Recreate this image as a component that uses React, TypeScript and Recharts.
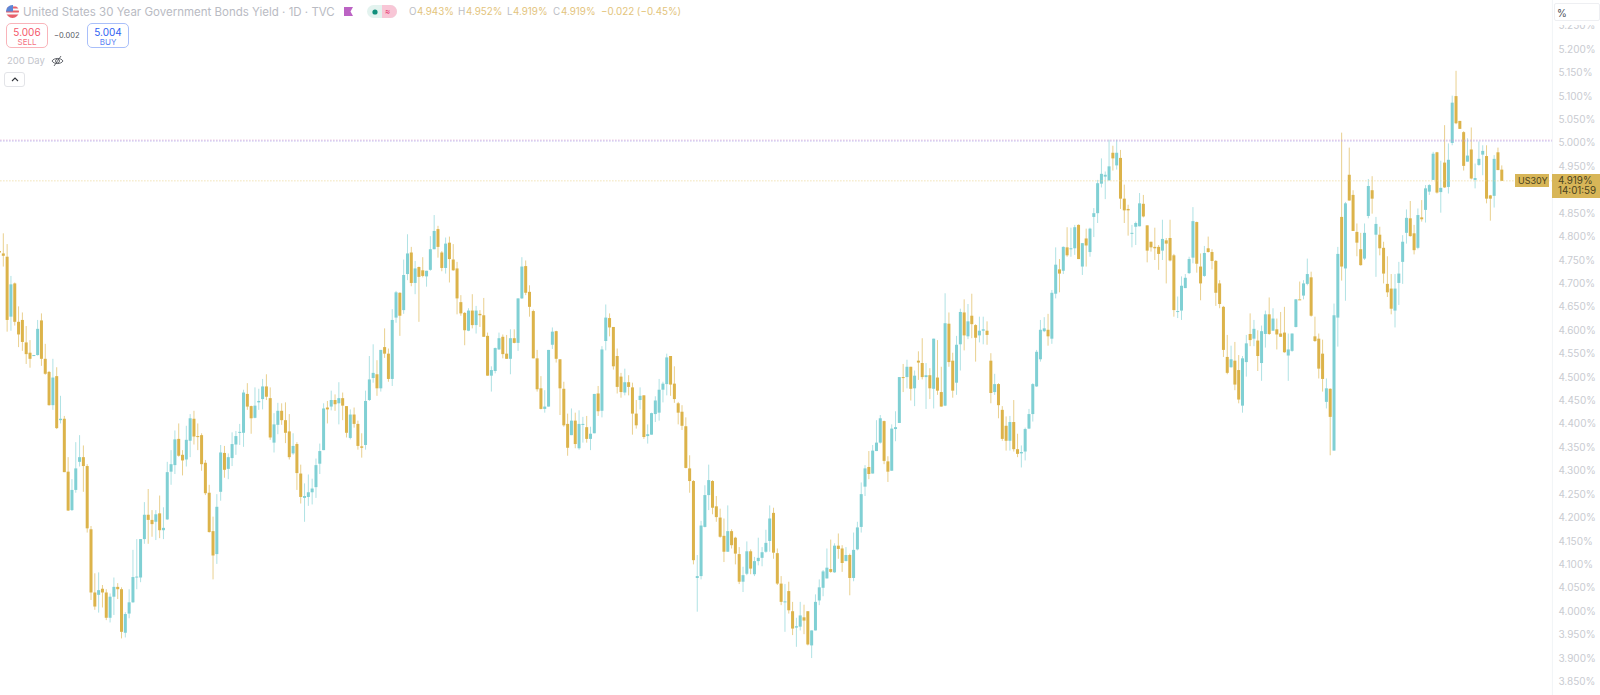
import React from "react";
import { ComposedChart, Bar, XAxis, YAxis, ReferenceLine } from "recharts";

const highs = [
  4.772,4.807,4.784,4.716,4.702,4.651,4.638,4.609,4.579,4.547,
  4.622,4.636,4.571,4.513,4.539,4.521,4.460,4.417,4.329,4.282,
  4.361,4.376,4.354,4.314,4.182,4.081,4.083,4.056,4.047,4.038,
  4.072,4.060,4.051,3.998,4.047,4.131,4.154,4.154,4.233,4.261,
  4.216,4.216,4.247,4.222,4.319,4.344,4.386,4.401,4.344,4.396,
  4.421,4.428,4.401,4.380,4.323,4.270,4.202,4.250,4.355,4.353,
  4.337,4.382,4.385,4.400,4.473,4.487,4.439,4.478,4.475,4.496,
  4.506,4.478,4.423,4.445,4.444,4.446,4.421,4.380,4.361,4.313,
  4.273,4.292,4.283,4.326,4.358,4.444,4.449,4.471,4.463,4.489,
  4.467,4.438,4.431,4.435,4.407,4.380,4.471,4.545,4.570,4.536,
  4.558,4.604,4.561,4.645,4.684,4.681,4.751,4.805,4.778,4.748,
  4.736,4.756,4.727,4.801,4.846,4.823,4.769,4.798,4.800,4.784,
  4.746,4.675,4.639,4.647,4.677,4.652,4.643,4.669,4.595,4.523,
  4.563,4.595,4.591,4.590,4.602,4.602,4.668,4.756,4.749,4.696,
  4.644,4.558,4.502,4.472,4.558,4.606,4.599,4.538,4.490,4.422,
  4.433,4.424,4.429,4.415,4.417,4.394,4.464,4.481,4.566,4.655,
  4.636,4.607,4.561,4.509,4.518,4.504,4.488,4.451,4.478,4.461,
  4.399,4.424,4.459,4.496,4.490,4.550,4.545,4.523,4.447,4.440,
  4.414,4.333,4.280,4.120,4.193,4.269,4.313,4.280,4.246,4.219,
  4.198,4.226,4.175,4.159,4.137,4.095,4.149,4.132,4.116,4.157,
  4.137,4.174,4.226,4.221,4.134,4.075,4.058,4.063,4.020,3.986,
  4.020,4.014,4.000,3.959,4.036,4.068,4.088,4.134,4.153,4.145,
  4.166,4.141,4.137,4.123,4.168,4.191,4.275,4.312,4.342,4.355,
  4.408,4.419,4.407,4.331,4.399,4.427,4.500,4.528,4.537,4.522,
  4.514,4.555,4.583,4.530,4.519,4.582,4.579,4.522,4.679,4.638,
  4.552,4.588,4.646,4.666,4.656,4.678,4.613,4.629,4.629,4.619,
  4.551,4.507,4.487,4.438,4.416,4.417,4.451,4.379,4.354,4.392,
  4.432,4.487,4.558,4.622,4.628,4.635,4.686,4.777,4.752,4.779,
  4.820,4.819,4.825,4.826,4.786,4.817,4.819,4.861,4.921,4.967,
  4.939,5.007,4.994,5.007,4.985,4.911,4.868,4.825,4.832,4.893,
  4.889,4.824,4.789,4.819,4.782,4.836,4.797,4.836,4.763,4.672,
  4.715,4.720,4.757,4.863,4.832,4.764,4.780,4.800,4.773,4.750,
  4.707,4.652,4.590,4.567,4.575,4.547,4.545,4.590,4.636,4.622,
  4.600,4.610,4.642,4.670,4.647,4.625,4.639,4.650,4.593,4.593,
  4.666,4.704,4.707,4.753,4.725,4.629,4.593,4.580,4.497,4.476,
  4.657,4.778,5.022,4.874,4.990,4.899,4.828,4.808,4.828,4.923,
  4.929,4.842,4.821,4.789,4.758,4.720,4.720,4.746,4.803,4.858,
  4.876,4.825,4.860,4.878,4.910,4.912,4.981,4.981,4.962,5.038,
  4.999,5.101,5.154,5.047,5.025,5.010,5.033,4.956,5.003,4.995,
  4.995,4.889,4.974,4.990,4.952,
];

const lows = [
  4.764,4.736,4.597,4.599,4.610,4.564,4.556,4.528,4.520,4.546,
  4.546,4.524,4.505,4.439,4.430,4.389,4.401,4.297,4.214,4.214,
  4.253,4.309,4.255,4.168,4.024,4.003,3.997,4.008,3.981,3.976,
  3.992,4.026,3.942,3.944,3.985,4.018,4.047,4.062,4.144,4.144,
  4.159,4.152,4.156,4.154,4.195,4.270,4.293,4.330,4.290,4.309,
  4.329,4.356,4.344,4.300,4.248,4.168,4.068,4.101,4.236,4.285,
  4.282,4.310,4.334,4.355,4.351,4.430,4.379,4.412,4.430,4.431,
  4.451,4.366,4.339,4.378,4.398,4.359,4.324,4.334,4.259,4.230,
  4.191,4.225,4.228,4.242,4.293,4.344,4.401,4.429,4.428,4.399,
  4.408,4.371,4.367,4.392,4.345,4.328,4.345,4.449,4.488,4.460,
  4.469,4.541,4.490,4.481,4.616,4.588,4.635,4.707,4.694,4.677,
  4.618,4.713,4.693,4.727,4.773,4.755,4.726,4.721,4.702,4.727,
  4.634,4.631,4.568,4.598,4.604,4.593,4.607,4.586,4.503,4.469,
  4.508,4.558,4.540,4.539,4.506,4.572,4.556,4.667,4.675,4.629,
  4.540,4.469,4.431,4.424,4.437,4.560,4.531,4.419,4.394,4.332,
  4.376,4.348,4.345,4.360,4.360,4.344,4.380,4.417,4.414,4.557,
  4.587,4.516,4.465,4.456,4.461,4.461,4.377,4.390,4.431,4.368,
  4.358,4.377,4.404,4.407,4.446,4.461,4.460,4.445,4.399,4.387,
  4.305,4.253,4.100,3.999,4.068,4.179,4.216,4.207,4.191,4.157,
  4.105,4.127,4.134,4.100,4.058,4.041,4.077,4.079,4.075,4.098,
  4.096,4.125,4.127,4.112,4.056,4.013,3.956,3.995,3.949,3.924,
  3.959,3.951,3.927,3.900,3.959,4.013,4.032,4.070,4.082,4.082,
  4.112,4.084,4.107,4.034,4.064,4.130,4.168,4.246,4.282,4.294,
  4.342,4.358,4.314,4.276,4.300,4.363,4.402,4.468,4.476,4.450,
  4.438,4.494,4.495,4.432,4.453,4.433,4.462,4.437,4.438,4.522,
  4.456,4.462,4.514,4.557,4.581,4.583,4.533,4.574,4.570,4.569,
  4.444,4.462,4.412,4.364,4.343,4.343,4.341,4.329,4.307,4.322,
  4.389,4.405,4.479,4.533,4.596,4.567,4.571,4.668,4.681,4.720,
  4.757,4.757,4.761,4.752,4.718,4.736,4.757,4.799,4.829,4.905,
  4.880,4.920,4.941,4.943,4.859,4.829,4.802,4.777,4.782,4.822,
  4.841,4.745,4.768,4.750,4.729,4.750,4.700,4.747,4.629,4.626,
  4.622,4.690,4.720,4.743,4.723,4.664,4.714,4.766,4.730,4.652,
  4.647,4.543,4.506,4.520,4.472,4.444,4.424,4.501,4.566,4.566,
  4.513,4.492,4.563,4.590,4.599,4.559,4.586,4.552,4.492,4.554,
  4.606,4.666,4.666,4.696,4.629,4.575,4.497,4.469,4.433,4.333,
  4.343,4.565,4.706,4.663,4.877,4.812,4.758,4.738,4.750,4.839,
  4.849,4.714,4.760,4.700,4.671,4.634,4.606,4.654,4.699,4.785,
  4.800,4.762,4.773,4.832,4.830,4.889,4.921,4.892,4.851,4.904,
  4.892,4.995,5.040,5.030,4.941,4.960,4.922,4.903,4.951,4.931,
  4.871,4.834,4.862,4.942,4.919,
];

const opens = [
  4.769,4.764,4.757,4.629,4.700,4.618,4.622,4.574,4.552,4.546,
  4.547,4.621,4.539,4.511,4.440,4.502,4.408,4.411,4.298,4.216,
  4.259,4.319,4.329,4.310,4.175,4.040,4.035,4.048,4.040,3.986,
  4.031,4.052,4.047,3.954,3.995,4.019,4.072,4.072,4.154,4.206,
  4.195,4.191,4.209,4.173,4.196,4.298,4.312,4.368,4.334,4.324,
  4.364,4.411,4.374,4.376,4.317,4.253,4.171,4.122,4.255,4.338,
  4.304,4.327,4.356,4.381,4.381,4.464,4.438,4.413,4.446,4.453,
  4.480,4.455,4.360,4.398,4.428,4.408,4.384,4.337,4.357,4.294,
  4.242,4.244,4.254,4.265,4.315,4.344,4.435,4.437,4.451,4.444,
  4.455,4.438,4.370,4.420,4.400,4.352,4.355,4.451,4.498,4.506,
  4.476,4.564,4.550,4.496,4.627,4.680,4.643,4.720,4.766,4.701,
  4.735,4.728,4.715,4.729,4.773,4.816,4.766,4.733,4.787,4.751,
  4.732,4.660,4.637,4.599,4.642,4.611,4.635,4.632,4.588,4.503,
  4.513,4.559,4.586,4.550,4.539,4.583,4.573,4.668,4.737,4.682,
  4.641,4.540,4.476,4.432,4.437,4.569,4.598,4.538,4.475,4.400,
  4.376,4.407,4.348,4.399,4.393,4.368,4.380,4.465,4.428,4.577,
  4.626,4.607,4.545,4.501,4.467,4.489,4.478,4.422,4.451,4.461,
  4.374,4.377,4.421,4.424,4.473,4.485,4.545,4.486,4.444,4.426,
  4.395,4.305,4.278,4.071,4.075,4.180,4.248,4.278,4.224,4.200,
  4.161,4.127,4.171,4.157,4.122,4.063,4.080,4.128,4.079,4.107,
  4.114,4.127,4.150,4.210,4.124,4.059,4.019,4.043,4.000,3.965,
  3.967,3.987,4.000,3.927,3.959,4.023,4.050,4.070,4.090,4.083,
  4.140,4.134,4.107,4.120,4.071,4.132,4.180,4.266,4.308,4.294,
  4.342,4.360,4.406,4.320,4.300,4.389,4.402,4.500,4.500,4.522,
  4.476,4.535,4.530,4.500,4.504,4.475,4.499,4.468,4.439,4.614,
  4.535,4.488,4.570,4.638,4.587,4.631,4.611,4.589,4.599,4.599,
  4.535,4.468,4.485,4.430,4.396,4.364,4.404,4.346,4.337,4.341,
  4.390,4.421,4.480,4.538,4.598,4.601,4.582,4.678,4.730,4.727,
  4.777,4.773,4.775,4.825,4.736,4.796,4.767,4.842,4.850,4.913,
  4.928,4.920,4.979,4.952,4.968,4.881,4.859,4.807,4.821,4.822,
  4.870,4.824,4.789,4.778,4.778,4.770,4.792,4.797,4.760,4.639,
  4.642,4.690,4.722,4.755,4.831,4.736,4.716,4.775,4.767,4.748,
  4.700,4.650,4.543,4.521,4.535,4.515,4.439,4.532,4.592,4.582,
  4.578,4.530,4.592,4.634,4.599,4.602,4.593,4.595,4.546,4.556,
  4.607,4.666,4.674,4.699,4.713,4.587,4.582,4.550,4.447,4.475,
  4.343,4.627,4.842,4.732,4.932,4.889,4.810,4.773,4.753,4.844,
  4.899,4.804,4.804,4.776,4.699,4.689,4.642,4.701,4.746,4.808,
  4.839,4.807,4.776,4.841,4.857,4.896,4.921,4.980,4.895,4.958,
  4.906,5.000,5.100,5.047,5.023,4.960,4.986,4.921,4.953,4.975,
  4.972,4.888,4.887,4.980,4.943,
];

const closes = [
  4.766,4.759,4.622,4.698,4.618,4.591,4.575,4.549,4.539,4.547,
  4.603,4.539,4.507,4.440,4.499,4.391,4.411,4.297,4.215,4.259,
  4.305,4.329,4.310,4.177,4.040,4.010,4.045,4.040,3.986,4.031,
  4.052,4.047,3.956,3.994,4.019,4.073,4.074,4.154,4.206,4.195,
  4.186,4.207,4.173,4.178,4.297,4.314,4.367,4.332,4.322,4.366,
  4.412,4.373,4.372,4.314,4.252,4.169,4.119,4.223,4.339,4.302,
  4.329,4.357,4.374,4.383,4.467,4.437,4.412,4.439,4.449,4.480,
  4.458,4.371,4.399,4.428,4.408,4.381,4.329,4.353,4.295,4.244,
  4.246,4.254,4.262,4.312,4.342,4.433,4.431,4.451,4.442,4.455,
  4.439,4.381,4.420,4.400,4.353,4.349,4.449,4.495,4.509,4.476,
  4.558,4.550,4.496,4.622,4.681,4.631,4.718,4.764,4.701,4.732,
  4.714,4.716,4.727,4.773,4.812,4.778,4.733,4.785,4.752,4.728,
  4.668,4.636,4.600,4.642,4.611,4.642,4.632,4.586,4.503,4.515,
  4.562,4.583,4.549,4.539,4.583,4.573,4.668,4.736,4.680,4.650,
  4.540,4.474,4.432,4.437,4.558,4.597,4.539,4.476,4.397,4.349,
  4.407,4.357,4.400,4.400,4.368,4.379,4.464,4.427,4.559,4.627,
  4.606,4.523,4.479,4.468,4.489,4.479,4.422,4.397,4.460,4.372,
  4.378,4.423,4.450,4.473,4.486,4.542,4.484,4.453,4.424,4.396,
  4.306,4.278,4.109,4.075,4.183,4.248,4.280,4.221,4.201,4.159,
  4.127,4.171,4.141,4.123,4.063,4.077,4.128,4.091,4.107,4.114,
  4.126,4.146,4.198,4.125,4.059,4.020,4.021,4.002,3.963,3.968,
  3.991,3.980,3.929,3.959,4.020,4.051,4.085,4.093,4.084,4.140,
  4.133,4.103,4.120,4.071,4.131,4.179,4.250,4.305,4.293,4.343,
  4.360,4.412,4.321,4.298,4.390,4.393,4.500,4.498,4.522,4.475,
  4.503,4.531,4.500,4.504,4.476,4.582,4.471,4.437,4.615,4.532,
  4.471,4.569,4.639,4.589,4.619,4.613,4.584,4.599,4.602,4.590,
  4.466,4.485,4.440,4.368,4.364,4.404,4.346,4.336,4.340,4.389,
  4.421,4.485,4.554,4.601,4.604,4.587,4.680,4.740,4.721,4.778,
  4.760,4.775,4.820,4.752,4.786,4.781,4.817,4.850,4.914,4.934,
  4.932,4.950,4.967,4.979,4.881,4.856,4.856,4.808,4.829,4.871,
  4.843,4.770,4.777,4.775,4.763,4.795,4.785,4.749,4.643,4.641,
  4.695,4.712,4.752,4.833,4.742,4.700,4.765,4.767,4.748,4.680,
  4.656,4.558,4.509,4.538,4.484,4.452,4.540,4.572,4.579,4.603,
  4.545,4.598,4.634,4.592,4.625,4.591,4.586,4.553,4.559,4.593,
  4.666,4.666,4.700,4.720,4.631,4.577,4.518,4.496,4.476,4.415,
  4.632,4.763,4.736,4.871,4.877,4.812,4.787,4.739,4.808,4.908,
  4.881,4.827,4.775,4.721,4.681,4.646,4.689,4.721,4.789,4.840,
  4.801,4.771,4.846,4.837,4.903,4.910,4.977,4.894,4.904,4.905,
  4.964,5.086,5.042,5.030,4.951,4.973,4.924,4.925,4.966,4.983,
  4.881,4.881,4.966,4.942,4.919,
];

const priceTicks = [
  3.85, 3.9, 3.95, 4.0, 4.05, 4.1, 4.15, 4.2, 4.25, 4.3, 4.35, 4.4, 4.45, 4.5, 4.55,
  4.6, 4.65, 4.7, 4.75, 4.8, 4.85, 4.9, 4.95, 5.0, 5.05, 5.1, 5.15, 5.2, 5.25,
];

const sellPrice = 5.006;
const buyPrice = 5.004;
const lastPrice = 4.919;

const UP = "#80D0D4";
const DOWN = "#DCB34A";
const FONT = "Inter, sans-serif";

const rows = opens.map((open, i) => ({
  day: i,
  open,
  high: highs[i],
  low: lows[i],
  close: closes[i],
}));

// both bars come from the y axis scale, the shape only picks the colour
const CandleBody = (props: any) => {
  const { x, y, width, height, payload } = props;
  const top = Math.min(y, y + height);
  const h = Math.max(Math.abs(height), 1);
  return <rect x={x} y={top} width={width} height={h} fill={payload.close > payload.open ? UP : DOWN} />;
};

const CandleWick = (props: any) => (
  <g opacity={0.62}>
    <CandleBody {...props} />
  </g>
);

const Txt = ({ x, y, size, color, children, center, weight }: any) => (
  <div
    style={{
      position: "absolute",
      left: center ? x - 60 : x,
      width: center ? 120 : undefined,
      textAlign: center ? "center" : "left",
      top: y - 10,
      height: 20,
      lineHeight: "20px",
      fontSize: size,
      color,
      fontFamily: FONT,
      fontWeight: weight || 400,
      whiteSpace: "nowrap",
    }}
  >
    {children}
  </div>
);

const Box = ({ x, y, w, h, border, bg, radius }: any) => (
  <div
    style={{
      position: "absolute",
      left: x,
      top: y,
      width: w,
      height: h,
      boxSizing: "border-box",
      border: border ? `1px solid ${border}` : "none",
      background: bg || "transparent",
      borderRadius: radius || 0,
    }}
  />
);

const Legend = () => (
  <>
    <svg style={{ position: "absolute", left: 6, top: 5 }} width={13} height={13} viewBox="0 0 13 13">
      <defs>
        <clipPath id="flag">
          <circle cx="6.5" cy="6.5" r="6.5" />
        </clipPath>
      </defs>
      <g clipPath="url(#flag)">
        <rect width="13" height="13" fill="#F9F9FB" />
        <rect y="1.5" width="13" height="2" fill="#E8606A" />
        <rect y="5.5" width="13" height="2" fill="#E8606A" />
        <rect y="9.5" width="13" height="3.5" fill="#E8606A" />
        <rect width="7" height="6.5" fill="#5C86D6" />
      </g>
    </svg>
    <Txt x={23} y={11.5} size={11.5} color="#B9BBC3">United States 30 Year Government Bonds Yield · 1D · TVC</Txt>
    <svg style={{ position: "absolute", left: 344, top: 7 }} width={9} height={9} viewBox="0 0 9 9">
      <polygon points="0,0 9,0 6.5,4.5 9,9 0,9" fill="#BC63C4" />
    </svg>
    <Box x={367} y={5} w={30} h={13} bg="#E3F3EF" radius={6.5} />
    <div style={{ position: "absolute", left: 382, top: 5, width: 15, height: 13, background: "#F8C6D6", borderRadius: "0 6.5px 6.5px 0" }} />
    <svg style={{ position: "absolute", left: 372, top: 8.5 }} width={6} height={6}>
      <circle cx="3" cy="3" r="2.6" fill="#108F7C" />
    </svg>
    <Txt x={385} y={11} size={8} color="#E63E76">≈</Txt>
    <Txt x={409} y={11.5} size={9.8} color="#BCBEC6">O</Txt>
    <Txt x={417} y={11.5} size={9.8} color="#E3C47C">4.943%</Txt>
    <Txt x={458} y={11.5} size={9.8} color="#BCBEC6">H</Txt>
    <Txt x={466} y={11.5} size={9.8} color="#E3C47C">4.952%</Txt>
    <Txt x={507} y={11.5} size={9.8} color="#BCBEC6">L</Txt>
    <Txt x={513} y={11.5} size={9.8} color="#E3C47C">4.919%</Txt>
    <Txt x={553} y={11.5} size={9.8} color="#BCBEC6">C</Txt>
    <Txt x={561} y={11.5} size={9.8} color="#E3C47C">4.919%</Txt>
    <Txt x={601} y={11.5} size={9.8} color="#E3C47C">−0.022 (−0.45%)</Txt>

    <Box x={6} y={23} w={42} h={25} border="#F9B4BA" bg="#fff" radius={5} />
    <Txt x={27} y={31.5} size={10} color="#F4586B" center>5.006</Txt>
    <Txt x={27} y={42} size={8} color="#F4727F" center>SELL</Txt>
    <Txt x={54} y={36} size={7.5} color="#55585F">−0.002</Txt>
    <Box x={87} y={23} w={42} h={25} border="#A9BFFA" bg="#fff" radius={5} />
    <Txt x={108} y={31.5} size={10} color="#2F62F2" center>5.004</Txt>
    <Txt x={108} y={42} size={8} color="#5A83F4" center>BUY</Txt>

    <Txt x={7} y={61} size={9.5} color="#C3C5CC">200 Day</Txt>
    <svg style={{ position: "absolute", left: 51, top: 55 }} width={13} height={12} viewBox="0 0 13 12" fill="none" stroke="#55585F" strokeWidth={0.9}>
      <path d="M1 6 C3 2.6 10 2.6 12 6 C10 9.4 3 9.4 1 6 Z" />
      <circle cx="6.5" cy="6" r="2" />
      <line x1="3" y1="11" x2="10" y2="1" />
    </svg>
    <Box x={4} y={72} w={21} h={15} border="#E3E4E8" bg="#fff" radius={3} />
    <svg style={{ position: "absolute", left: 11, top: 76 }} width={8} height={6} viewBox="0 0 8 6" fill="none" stroke="#33363C" strokeWidth={1.1}>
      <polyline points="1,5 4,2 7,5" />
    </svg>
  </>
);

const PriceTags = () => (
  <>
    <Box x={1553} y={20} w={47} h={5} bg="#fff" />
    <Box x={1554} y={3} w={46} h={18} border="#EEEFF2" bg="#fff" radius={2} />
    <Txt x={1557} y={12.5} size={10} color="#4A4D55">%</Txt>
    <Box x={1515} y={174} w={34} h={13} bg="#D8B658" />
    <Txt x={1518} y={180.5} size={9} color="#4B4320">US30Y</Txt>
    <Box x={1552} y={174} w={48} h={24} bg="#D8B658" />
    <Txt x={1558} y={180.5} size={9.8} color="#4B4320">4.919%</Txt>
    <Txt x={1558} y={191} size={9.8} color="#4B4320">14:01:59</Txt>
  </>
);

export default function App() {
  return (
    <div style={{ position: "absolute", left: 0, top: 0, width: 1600, height: 695, overflow: "hidden", background: "#fff" }}>
      <div style={{ position: "absolute", left: -2.4, top: 0 }}>
        <ComposedChart width={1602.4} height={695} data={rows} margin={{ top: 0, right: 0, bottom: 0, left: 0 }}>
          <XAxis xAxisId="wick" dataKey="day" hide padding={{ left: 0, right: 48.3 }} />
          <XAxis xAxisId="body" dataKey="day" hide padding={{ left: 0, right: 48.3 }} />
          <YAxis
            orientation="right"
            width={48}
            domain={[3.8211, 5.3052]}
            allowDataOverflow
            ticks={priceTicks}
            interval={0}
            tickFormatter={(v: number) => `${v.toFixed(3)}%`}
            tickLine={false}
            tickSize={0}
            tickMargin={6}
            axisLine={{ stroke: "#F1F4F6" }}
            tick={{ fill: "#C9CBD1", fontSize: 10, fontFamily: FONT }}
          />
          <ReferenceLine xAxisId="body" y={sellPrice} stroke="#DE9CC8" strokeWidth={1} strokeDasharray="1 2" />
          <ReferenceLine xAxisId="body" y={buyPrice} stroke="#A8A4EE" strokeWidth={1} strokeDasharray="1 2" />
          <ReferenceLine xAxisId="body" y={lastPrice} stroke="#EAD48F" strokeWidth={1} strokeDasharray="1 2" />
          <Bar
            xAxisId="wick"
            dataKey={(d: any) => [d.low, d.high]}
            barSize={1}
            shape={CandleWick}
            isAnimationActive={false}
          />
          <Bar
            xAxisId="body"
            dataKey={(d: any) => [Math.min(d.open, d.close), Math.max(d.open, d.close)]}
            barSize={3}
            shape={CandleBody}
            isAnimationActive={false}
          />
        </ComposedChart>
      </div>
      <Legend />
      <PriceTags />
    </div>
  );
}
